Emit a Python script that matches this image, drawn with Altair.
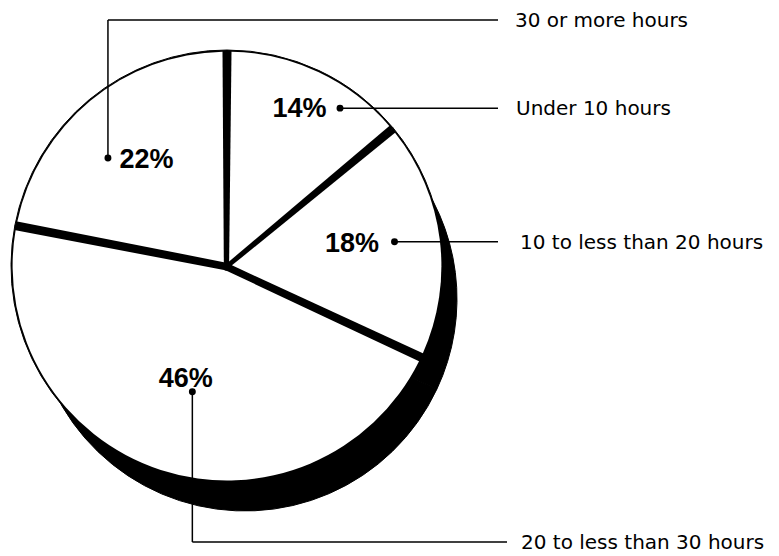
import math
import altair as alt
import pandas as pd

# ---- data ----
categories = ["Under 10 hours", "10 to less than 20 hours", "20 to less than 30 hours", "30 or more hours"]
shares = [14, 18, 46, 22]

# ---- layout (chart pixels; page minus 8px margin) ----
CX, CY, R = 219, 258, 216
SHADOW_DX, SHADOW_DY, SHADOW_R = 18, 33, 212
label_radius = [175, 126, 117, 135]
label_nudge = [(-2, 0), (0, -8), (-5, 0), (5.5, -4)]
dot_offset = [(40.5, 0.5), (42.5, -0.5), (6.5, 14.5), (-38.5, 0)]
name_x = [508, 512, 513, 507]
line_end_x = [490, 490, 499, 490]
elbow_y = [None, None, 534, 12]

pie_rows, pct_rows, dot_rows, seg_rows, name_rows = [], [], [], [], []
cum = 0
for i, (cat, s) in enumerate(zip(categories, shares)):
    pie_rows.append({"idx": i, "cat": cat, "share": s})
    mid = 2 * math.pi * (cum + s / 2) / 100
    cum += s
    tx = CX + label_radius[i] * math.sin(mid) + label_nudge[i][0]
    ty = CY - label_radius[i] * math.cos(mid) + label_nudge[i][1]
    pct_rows.append({"x": tx, "y": ty + 1.6, "t": f"{s}%"})
    dx, dy = tx + dot_offset[i][0], ty + dot_offset[i][1]
    dot_rows.append({"x": dx, "y": dy})
    if elbow_y[i] is None:
        ly = dy
        seg_rows.append({"x": dx, "y": dy, "x2": line_end_x[i], "y2": dy})
    else:
        ly = elbow_y[i]
        seg_rows.append({"x": dx, "y": dy, "x2": dx, "y2": ly})
        seg_rows.append({"x": dx, "y": ly, "x2": line_end_x[i], "y2": ly})
    name_rows.append({"x": name_x[i], "y": ly + 1.0, "t": cat})

pie_df = pd.DataFrame(pie_rows)
pct_df = pd.DataFrame(pct_rows)
dot_df = pd.DataFrame(dot_rows)
seg_df = pd.DataFrame(seg_rows)
name_df = pd.DataFrame(name_rows)

theta = alt.Theta("share:Q", stack=True)
order = alt.Order("idx:Q")

shadow = alt.Chart(pie_df).mark_arc(
    color="black", stroke="black", strokeWidth=1, outerRadius=SHADOW_R
).encode(theta=theta, order=order,
         x=alt.value(CX + SHADOW_DX), y=alt.value(CY + SHADOW_DY))

disk = alt.Chart(pie_df).mark_arc(
    color="black", stroke="black", strokeWidth=1, outerRadius=R
).encode(theta=theta, order=order, x=alt.value(CX), y=alt.value(CY))

slices = alt.Chart(pie_df).mark_arc(
    color="white", outerRadius=R - 1.6, innerRadius=5, padAngle=0.042
).encode(theta=theta, order=order, x=alt.value(CX), y=alt.value(CY))

px = lambda f: alt.X(f, scale=None, axis=None)
py = lambda f: alt.Y(f, scale=None, axis=None)

rules = alt.Chart(seg_df).mark_rule(color="black", strokeWidth=1.5).encode(
    x=px("x:Q"), y=py("y:Q"), x2="x2:Q", y2="y2:Q")

dots = alt.Chart(dot_df).mark_circle(color="black", size=48, opacity=1).encode(
    x=px("x:Q"), y=py("y:Q"))

pcts = alt.Chart(pct_df).mark_text(
    font="Liberation Sans", fontWeight="bold", fontSize=27,
    align="center", baseline="middle", color="black"
).encode(x=px("x:Q"), y=py("y:Q"), text="t:N")

names = alt.Chart(name_df).mark_text(
    font="DejaVu Sans", fontSize=20, align="left", baseline="middle", color="black"
).encode(x=px("x:Q"), y=py("y:Q"), text="t:N")

chart = alt.layer(shadow, disk, slices, rules, dots, pcts, names).properties(
    width=763, height=548, padding=0,
    autosize=alt.AutoSizeParams(type="none"),
    background="white",
).configure_view(stroke=None)

chart.save("out.html", embed_options={"renderer": "svg", "actions": False})
